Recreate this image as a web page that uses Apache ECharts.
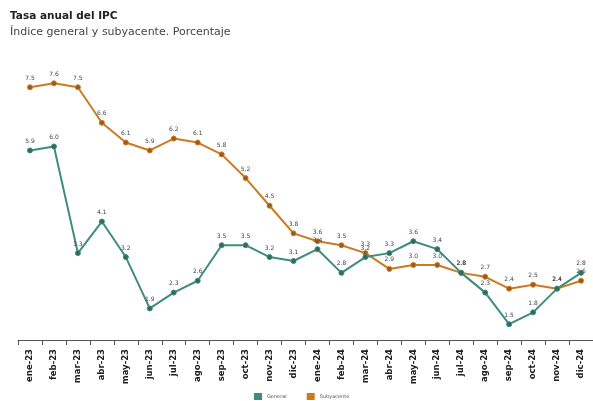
<!DOCTYPE html>
<html>
<head>
<meta charset="utf-8">
<style>
  html, body { margin: 0; padding: 0; background: #ffffff; }
  #chart { width: 593px; height: 401px; }
</style>
<script src="https://cdn.jsdelivr.net/npm/echarts@6/dist/echarts.min.js"></script>
</head>
<body>
<div id="chart"></div>
<script>
// Months shown on the category axis
const months = [
  'ene-23','feb-23','mar-23','abr-23','may-23','jun-23','jul-23','ago-23','sep-23','oct-23','nov-23','dic-23',
  'ene-24','feb-24','mar-24','abr-24','may-24','jun-24','jul-24','ago-24','sep-24','oct-24','nov-24','dic-24'
];

// Annual CPI rate, headline index (%)
const general = [5.9, 6.0, 3.3, 4.1, 3.2, 1.9, 2.3, 2.6, 3.5, 3.5, 3.2, 3.1,
                 3.4, 2.8, 3.2, 3.3, 3.6, 3.4, 2.8, 2.3, 1.5, 1.8, 2.4, 2.8];

// Annual CPI rate, core index (%)
const subyacente = [7.5, 7.6, 7.5, 6.6, 6.1, 5.9, 6.2, 6.1, 5.8, 5.2, 4.5, 3.8,
                    3.6, 3.5, 3.3, 2.9, 3.0, 3.0, 2.8, 2.7, 2.4, 2.5, 2.4, 2.6];

const GREEN = '#3f8c7c';
const ORANGE = '#cc7a22';
const FONT = '"DejaVu Sans", Verdana, sans-serif';

const valueLabel = {
  show: true,
  position: 'top',
  distance: 3,
  fontSize: 6,
  fontFamily: FONT,
  color: '#444',
  formatter: p => p.value.toFixed(1)
};

const chart = echarts.init(document.getElementById('chart'), null, { renderer: 'canvas' });

chart.setOption({
  backgroundColor: '#ffffff',
  animation: false,
  title: {
    text: 'Tasa anual del IPC',
    subtext: 'Índice general y subyacente. Porcentaje',
    left: 10,
    top: 11,
    padding: 0,
    itemGap: 5,
    textStyle: { fontSize: 10.5, fontWeight: 'bold', color: '#222', fontFamily: FONT },
    subtextStyle: { fontSize: 11, color: '#444', fontFamily: FONT }
  },
  legend: {
    left: 254,
    top: 393,
    padding: 0,
    itemWidth: 8,
    itemHeight: 7,
    itemGap: 20,
    icon: 'rect',
    itemStyle: { borderWidth: 0 },
    textStyle: { fontSize: 5, color: '#555', fontFamily: FONT },
    data: [
      { name: 'General', itemStyle: { color: GREEN, borderWidth: 0 } },
      { name: 'Subyacente', itemStyle: { color: ORANGE, borderWidth: 0 } }
    ]
  },
  grid: {
    left: 18,
    right: -8.3,
    top: 67.5,
    bottom: 61,
    containLabel: false
  },
  xAxis: {
    type: 'category',
    data: months,
    boundaryGap: true,
    axisLine: { show: true, lineStyle: { color: '#555', width: 1 } },
    axisTick: { show: true, length: 5, lineStyle: { color: '#555' } },
    axisLabel: {
      rotate: 90,
      interval: 0,
      margin: 9,
      fontSize: 8.5,
      fontWeight: 'bold',
      color: '#222',
      fontFamily: FONT
    },
    splitLine: { show: false }
  },
  yAxis: {
    type: 'value',
    min: 1.1,
    max: 8.0,
    show: false,
    splitLine: { show: false }
  },
  series: [
    {
      name: 'General',
      type: 'line',
      data: general,
      color: GREEN,
      symbol: 'circle',
      symbolSize: 5,
      lineStyle: { width: 2, color: GREEN },
      itemStyle: { color: '#2f6a5e', borderColor: GREEN, borderWidth: 1 },
      label: valueLabel,
      z: 3
    },
    {
      name: 'Subyacente',
      type: 'line',
      data: subyacente,
      color: ORANGE,
      symbol: 'circle',
      symbolSize: 5,
      lineStyle: { width: 2, color: ORANGE },
      itemStyle: { color: '#9a5a18', borderColor: ORANGE, borderWidth: 1 },
      label: valueLabel,
      z: 2
    }
  ]
});
</script>
</body>
</html>
